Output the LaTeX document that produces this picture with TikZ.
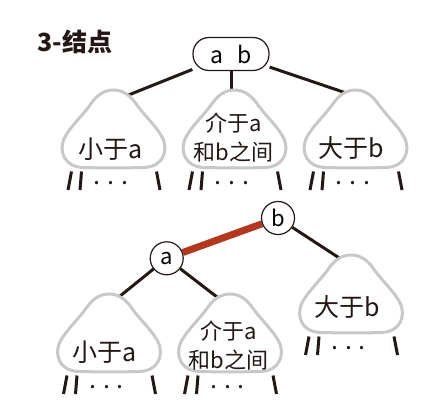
\documentclass[tikz,border=0pt]{standalone}
\usepackage{fontspec}
\setmainfont{Noto Sans CJK SC}
\definecolor{ink}{HTML}{231816}
\definecolor{treegray}{HTML}{C8C8C8}
\definecolor{linkred}{HTML}{B4381F}
\pgfdeclarelayer{bg}
\pgfsetlayers{bg,main}
\tikzset{
  link/.style={draw=ink, line width=3pt},
  redlink/.style={draw=linkred, line width=7pt},
  keycircle/.style={circle, draw=ink, line width=1.2pt, fill=white, minimum size=33pt, inner sep=0pt, font=\fontsize{22pt}{26pt}\selectfont},
  pill/.style={rectangle, rounded corners=16pt, draw=ink, line width=1.2pt, fill=white, minimum width=76pt, minimum height=33pt, inner sep=0pt, font=\fontsize{23pt}{27pt}\selectfont},
  lbl/.style={font=\fontsize{25pt}{29pt}\selectfont, align=center, inner sep=0pt, text=ink},
  lbltwo/.style={font=\fontsize{22pt}{29pt}\selectfont, align=center, inner sep=0pt, text=ink},
  titlelbl/.style={font=\fontsize{25pt}{29pt}\selectfont\bfseries, inner sep=0pt, text=ink},
  treeshape/.style={draw=treegray, line width=3pt, fill=white},
  legline/.style={draw=ink, line width=3pt},
  dotstext/.style={font=\fontsize{25pt}{29pt}\selectfont, inner sep=0pt, text=ink, text height=3pt, text depth=0pt},
  subtree/.pic={
    \draw[legline] (-42,3.5) -- (-45.5,22);
    \draw[legline] (-32,3.5) -- (-33.5,22);
    \draw[legline] (43,3.5) -- (46.5,22);
    \draw[treeshape] (0,-78) .. controls (-10,-78) and (-17,-72) .. (-22,-65)
      .. controls (-31,-52) and (-45,-40) .. (-50,-28)
      .. controls (-54,-17) and (-50,-1) .. (-30,-0.5)
      .. controls (-15,0) and (15,0) .. (30,-0.5)
      .. controls (50,-1) and (54,-17) .. (50,-28)
      .. controls (45,-40) and (31,-52) .. (22,-65)
      .. controls (17,-72) and (10,-78) .. (0,-78) -- cycle;
    \node[dotstext] (-dots) at (-2.5,15) {.\hspace{6.8pt}.\hspace{6.8pt}.};
  }
}
\begin{document}
\begin{tikzpicture}[x=1pt,y=-1pt]
\useasboundingbox (0,0) rectangle (446,418);
% title
\node[titlelbl] (title) at (75,41.5) {3-结点};
% 3-node
\node[pill] (ab) at (231,54) {a\hspace{0.6em}b};
\coordinate (t1top) at (113.5,101);
\coordinate (t2top) at (231,97);
\coordinate (t3top) at (355,96);
% red-black representation
\node[keycircle] (b) at (278,218) {b};
\node[keycircle] (a) at (166.7,258.3) {a};
\coordinate (t4top) at (109,305);
\coordinate (t5top) at (230,307);
\coordinate (t6top) at (350,265);
\begin{pgfonlayer}{bg}
  \draw[link] (ab) -- (t1top);
  \draw[link] (ab) -- (t2top);
  \draw[link] (ab) -- (t3top);
  \draw[redlink] (a) -- (b);
  \draw[link] (a) -- (t4top);
  \draw[link] (a) -- (t5top);
  \draw[link] (b) -- (t6top);
\end{pgfonlayer}
% subtrees
\pic (t1) at (113.5,168) {subtree};
\pic (t2) at (234.5,168) {subtree};
\pic (t3) at (355.5,168) {subtree};
\pic (t4) at (109,372) {subtree};
\pic (t5) at (230,372) {subtree};
\pic (t6) at (351,333) {subtree};
% labels
\node[lbl] (lt1) at (111,149) {小于a};
\node[lbltwo] (lt2) at (233.5,137.5) {介于a\\和b之间};
\node[lbl] (lt3) at (351,148) {大于b};
\node[lbl] (lt4) at (105,352) {小于a};
\node[lbltwo] (lt5) at (228.5,345.5) {介于a\\和b之间};
\node[lbl] (lt6) at (347.5,307) {大于b};
\end{tikzpicture}
\end{document}
